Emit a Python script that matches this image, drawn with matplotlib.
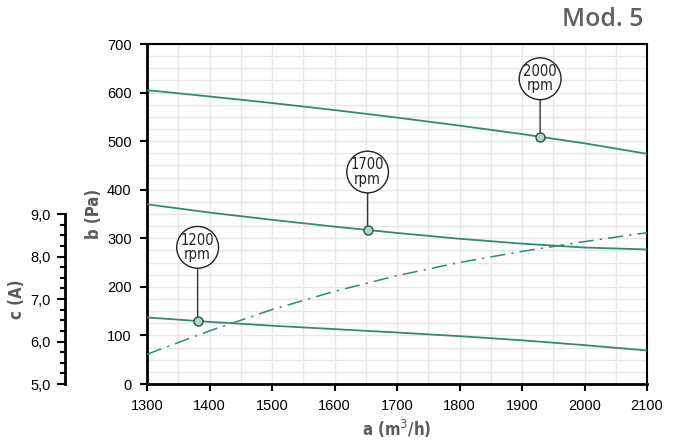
import matplotlib.pyplot as plt
import matplotlib.ticker as mticker

# ── DATA ──────────────────────────────────────────────────────────────────────
airflow = [1300, 1400, 1500, 1600, 1700, 1800, 1900, 2000, 2100]

pressure_2000 = [605, 592, 578.5, 564, 548.5, 532, 514.5, 495.5, 474]
pressure_1700 = [370, 353, 338, 324, 311, 299, 289, 281, 277]
pressure_1200 = [137, 128, 120, 113, 106, 98.5, 90, 80, 69]
current = [5.70, 6.25, 6.75, 7.18, 7.55, 7.86, 8.12, 8.35, 8.56]

# operating points marked on each curve: (rpm label, airflow, pressure)
op_points = [
    ("1200\nrpm", 1381, 129),
    ("1700\nrpm", 1653, 317),
    ("2000\nrpm", 1929, 509),
]

TEAL = "#2f8a78"
GREY = "#5a5a5a"
LABEL_FONT = ["DejaVu Sans"]
TICK_FONT = ["Liberation Sans", "DejaVu Sans"]

fig = plt.figure(figsize=(6.81, 4.44), dpi=100)
ax = fig.add_axes([147 / 681, 60 / 444, 500 / 681, 340 / 444])

# fan curves
for p in (pressure_2000, pressure_1700, pressure_1200):
    ax.plot(airflow, p, color=TEAL, lw=1.3, zorder=3)

ax.set_xlim(1300, 2100)
ax.set_ylim(0, 700)
ax.xaxis.set_major_locator(mticker.MultipleLocator(100))
ax.xaxis.set_minor_locator(mticker.MultipleLocator(50))
ax.yaxis.set_major_locator(mticker.MultipleLocator(100))
ax.yaxis.set_minor_locator(mticker.MultipleLocator(25))
ax.grid(which="both", color="#e6e6e6", lw=1.0, zorder=0)
ax.set_axisbelow(True)
ax.tick_params(which="major", direction="out", length=5, width=1.5,
               labelsize=10.5, pad=6)
ax.tick_params(which="minor", length=0)
for lab in ax.get_xticklabels() + ax.get_yticklabels():
    lab.set_family(TICK_FONT)
for side in ("left", "bottom"):
    ax.spines[side].set_linewidth(2)
for side in ("top", "right"):
    ax.spines[side].set_linewidth(1.5)

ax.set_xlabel("a (m$^3$/h)", family=LABEL_FONT, fontweight="bold",
              fontstretch="condensed", fontsize=12, color=GREY, labelpad=3)
ax.set_ylabel("b (Pa)", family=LABEL_FONT, fontweight="bold",
              fontstretch="condensed", fontsize=12, color=GREY, labelpad=3)

# rpm callouts
for text, x, y in op_points:
    rise = 74 if y < 200 else 58
    ax.annotate(text, xy=(x, y), xytext=(0, rise * 0.72), textcoords="offset points",
                ha="center", va="center", fontsize=10.5, linespacing=0.95,
                family="DejaVu Sans", fontstretch="condensed", color="#222222",
                bbox=dict(boxstyle="circle,pad=0.28", fc="white", ec="#222222", lw=1),
                arrowprops=dict(arrowstyle="-", color="#333333", lw=1,
                                shrinkA=0, shrinkB=3),
                zorder=5)
    ax.plot(x, y, "o", ms=6.5, mfc="#a9d9cc", mec="#2b4f47", mew=1, zorder=6)

# current axis on the far left, sharing the airflow scale
axc = ax.twinx()
axc.set_ylim(5, 13)
axc.plot(airflow, current, color=TEAL, lw=1.1, ls=(0, (10, 4, 1.5, 4)), zorder=3)
for side in ("top", "bottom", "right"):
    axc.spines[side].set_visible(False)
axc.spines["left"].set_visible(True)
axc.spines["left"].set_position(("axes", -0.164))
axc.spines["left"].set_bounds(5, 9)
axc.spines["left"].set_linewidth(2)
axc.yaxis.set_ticks_position("left")
axc.yaxis.set_label_position("left")
axc.set_yticks([5, 6, 7, 8, 9])
axc.yaxis.set_minor_locator(mticker.FixedLocator(
    [v / 4 for v in range(20, 37) if v % 4]))
axc.yaxis.set_major_formatter(mticker.FuncFormatter(lambda v, _: f"{v:.1f}".replace(".", ",")))
axc.tick_params(which="major", length=6, width=1.5, labelsize=10.5, pad=4)
axc.tick_params(which="minor", length=3.5, width=1.5)
for lab in axc.get_yticklabels():
    lab.set_family(TICK_FONT)
axc.set_ylabel("c (A)", family=LABEL_FONT, fontweight="bold", fontstretch="condensed",
               fontsize=12, color=GREY)
axc.yaxis.set_label_coords(-0.243, 0.25)

fig.text(643 / 681, 1 - 20 / 444, "Mod. 5", ha="right", va="center",
         fontsize=18, fontweight="semibold", fontstretch="normal", color="#606060",
         family=["Open Sans", "DejaVu Sans"])

fig.savefig("out.png", dpi=100)
